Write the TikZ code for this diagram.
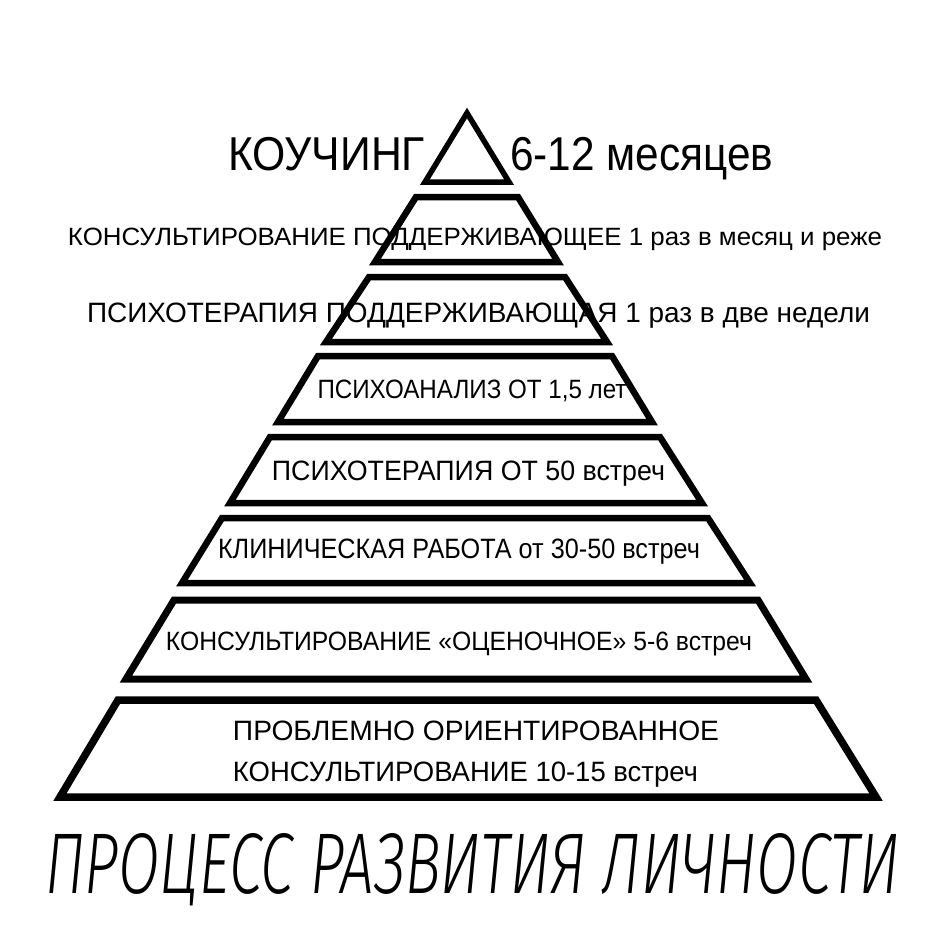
\documentclass[tikz,border=0pt]{standalone}
\usepackage{fontspec}
\usepackage{graphicx}
\setmainfont{Liberation Sans}
\IfFontExistsTF{Fira Sans Light Italic}
  {\newfontfamily\titlefont{Fira Sans Light Italic}}
  {\IfFontExistsTF{DejaVu Sans ExtraLight}
    {\newfontfamily\titlefont[FakeSlant=0.2]{DejaVu Sans ExtraLight}}
    {\IfFontExistsTF{Lato Light Italic}
      {\newfontfamily\titlefont{Lato Light Italic}}
      {\newfontfamily\titlefont[FakeSlant=0.2]{Liberation Sans}}}}
\newcommand\fitw[2]{\resizebox{#1pt}{\height}{#2}}
\begin{document}
\begin{tikzpicture}[x=1pt,y=-1pt,
  layer/.style={draw=black,line width=6.5pt,line join=miter,fill=white},
  lbl/.style={anchor=base,inner sep=0pt,text=black}]
\useasboundingbox (0,0) rectangle (950,950);
\fill[white] (0,0) rectangle (950,950);
% layers
\draw[layer,line width=5.5pt] (467,113) -- (509,182) -- (425,182) -- cycle;
\draw[layer] (416,197) -- (518,197) -- (558,262) -- (375,262) -- cycle;
\draw[layer] (369,277) -- (565,277) -- (607,342) -- (326,342) -- cycle;
\draw[layer] (318,356) -- (612,356) -- (652,422) -- (278,422) -- cycle;
\draw[layer] (270,437) -- (660,437) -- (702,503) -- (230,503) -- cycle;
\draw[layer] (222,518) -- (708,518) -- (750,583) -- (182,583) -- cycle;
\draw[layer,line width=7pt] (174,600) -- (758,600) -- (806,679) -- (126,679) -- cycle;
\draw[layer,line width=7.5pt] (118,700) -- (816,700) -- (876,797) -- (60,797) -- cycle;
% labels
\node[lbl,font=\fontsize{47.5}{50}\selectfont] (coach) at (326.5,170) {\fitw{197}{КОУЧИНГ}};
\node[lbl,font=\fontsize{47.5}{50}\selectfont] (months) at (641.5,170) {\fitw{263}{6-12 месяцев}};
\node[lbl,font=\fontsize{25}{28}\selectfont] (t1) at (475,245) {\fitw{814}{КОНСУЛЬТИРОВАНИЕ ПОДДЕРЖИВАЮЩЕЕ 1 раз в месяц и реже}};
\node[lbl,font=\fontsize{28}{30}\selectfont] (t2) at (478.5,322) {\fitw{783}{ПСИХОТЕРАПИЯ ПОДДЕРЖИВАЮЩАЯ 1 раз в две недели}};
\node[lbl,font=\fontsize{26.5}{30}\selectfont] (t3) at (472,398) {\fitw{309}{ПСИХОАНАЛИЗ ОТ 1,5 лет}};
\node[lbl,font=\fontsize{28}{30}\selectfont] (t4) at (468.5,480) {\fitw{393}{ПСИХОТЕРАПИЯ ОТ 50 встреч}};
\node[lbl,font=\fontsize{28}{30}\selectfont] (t5) at (459,558) {\fitw{482}{КЛИНИЧЕСКАЯ РАБОТА от 30-50 встреч}};
\node[lbl,font=\fontsize{26.5}{30}\selectfont] (t6) at (459,650) {\fitw{586}{КОНСУЛЬТИРОВАНИЕ «ОЦЕНОЧНОЕ» 5-6 встреч}};
\node[lbl,font=\fontsize{28}{30}\selectfont] (t7a) at (476,740) {\fitw{486}{ПРОБЛЕМНО ОРИЕНТИРОВАННОЕ}};
\node[lbl,font=\fontsize{28}{30}\selectfont] (t7b) at (465.5,781) {\fitw{465}{КОНСУЛЬТИРОВАНИЕ 10-15 встреч}};
\node[lbl,font=\titlefont\fontsize{86}{90}\selectfont] (title) at (472.5,893) {\resizebox{855pt}{60pt}{ПРОЦЕСС РАЗВИТИЯ ЛИЧНОСТИ}};
\end{tikzpicture}
\end{document}
